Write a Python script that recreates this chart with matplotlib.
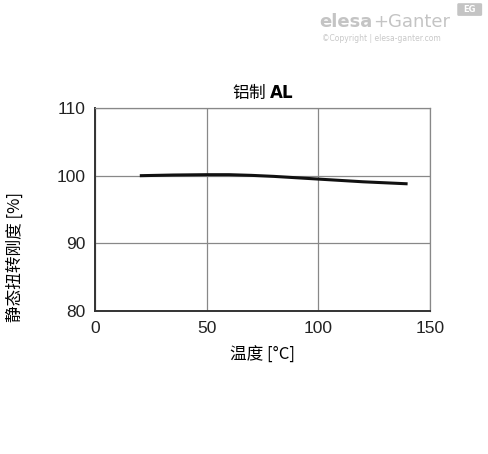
import matplotlib
matplotlib.use("Agg")
import matplotlib.pyplot as plt
from matplotlib.patches import FancyBboxPatch

plt.rcParams["font.family"] = ["Noto Sans CJK SC", "DejaVu Sans"]

# stiffness curve (temperature in °C, static torsional stiffness in %)
temp_c = [20, 35, 50, 60, 70, 80, 90, 100, 110, 120, 130, 140]
stiffness_pct = [100.0, 100.1, 100.15, 100.15, 100.05, 99.9, 99.7, 99.5, 99.3, 99.1, 98.95, 98.8]

x_ticks = [0, 50, 100, 150]
y_ticks = [80, 90, 100, 110]

fig = plt.figure(figsize=(4.88, 4.54), dpi=100)
ax = fig.add_axes([0.195, 0.315, 0.686, 0.447])

ax.plot(temp_c, stiffness_pct, color="#111111", linewidth=2.2, solid_capstyle="butt")

ax.set_xlim(0, 150)
ax.set_ylim(80, 110)
ax.set_xticks(x_ticks)
ax.set_yticks(y_ticks)
ax.tick_params(length=0, labelsize=12.5, pad=7, colors="#222222")
for lbl in ax.get_xticklabels() + ax.get_yticklabels():
    lbl.set_family("Liberation Sans")
ax.grid(True, color="#888888", linewidth=0.9)
ax.set_axisbelow(True)
for side in ("top", "right"):
    ax.spines[side].set_color("#888888")
    ax.spines[side].set_linewidth(0.9)
for side in ("left", "bottom"):
    ax.spines[side].set_color("#333333")
    ax.spines[side].set_linewidth(1.4)

ax.set_title("铝制 $\\mathbf{AL}$", fontsize=12, pad=7)
ax.set_xlabel("温度 [°C]", fontsize=12, labelpad=8)
fig.text(15 / 488, 1 - 257 / 454, "静态扭转刚度 [%]", fontsize=12, rotation=90,
         ha="center", va="center")

# watermark logo
fig.text(0.655, 0.952, "elesa", fontsize=13, fontweight="bold", color="#c4c4c4",
         family="DejaVu Sans", ha="left", va="center")
fig.text(0.764, 0.952, "+Ganter", fontsize=13, color="#c4c4c4",
         family="DejaVu Sans", ha="left", va="center")
fig.text(0.66, 0.916, "©Copyright | elesa-ganter.com", fontsize=5.5, color="#c8c8c8",
         family="DejaVu Sans", ha="left", va="center")
badge = FancyBboxPatch((0.94, 0.968), 0.045, 0.022, boxstyle="round,pad=0.003",
                       transform=fig.transFigure, facecolor="#c4c4c4", edgecolor="none")
fig.patches.append(badge)
fig.text(0.962, 0.979, "EG", fontsize=6, color="white", fontweight="bold",
         family="DejaVu Sans", ha="center", va="center")

fig.savefig("out.png", dpi=100)
